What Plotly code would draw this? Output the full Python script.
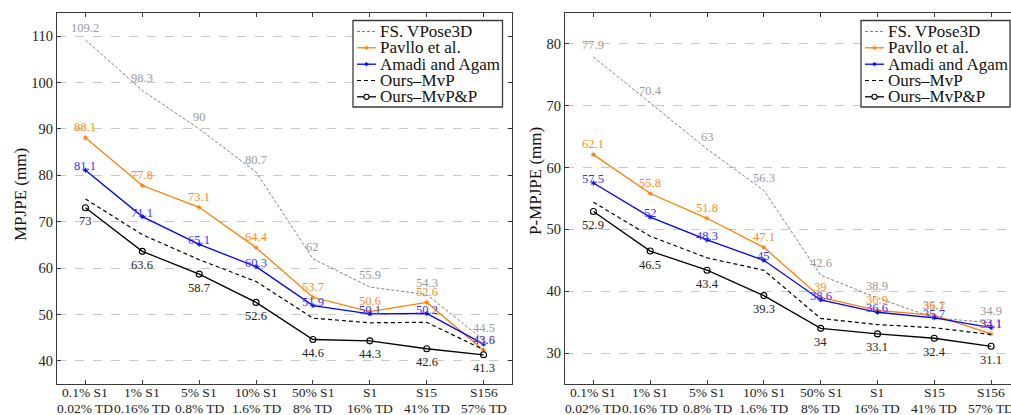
import plotly.graph_objects as go

# ---- data ----
cat_top = ["0.1% S1", "1% S1", "5% S1", "10% S1", "50% S1", "S1", "S15", "S156"]
cat_bottom = ["0.02% TD", "0.16% TD", "0.8% TD", "1.6% TD", "8% TD", "16% TD", "41% TD", "57% TD"]

mpjpe_vpose = [109.2, 98.3, 90, 80.7, 62, 55.9, 54.3, 44.5]
mpjpe_pavllo = [88.1, 77.8, 73.1, 64.4, 53.7, 50.6, 52.6, 42.3]
mpjpe_amadi = [81.1, 71.1, 65.1, 60.3, 51.9, 50.1, 50.2, 43.6]
mpjpe_mvp = [74.9, 67.2, 61.8, 57.1, 49.2, 48.2, 48.3, 42.4]
mpjpe_mvpp = [73, 63.6, 58.7, 52.6, 44.6, 44.3, 42.6, 41.3]

pmpjpe_vpose = [77.9, 70.4, 63, 56.3, 42.6, 38.9, 35.7, 34.9]
pmpjpe_pavllo = [62.1, 55.8, 51.8, 47.1, 39, 36.9, 36.1, 33.1]
pmpjpe_amadi = [57.5, 52, 48.3, 45, 38.6, 36.6, 35.7, 34.1]
pmpjpe_mvp = [54.4, 48.9, 45.4, 43.4, 35.6, 34.6, 34.1, 33.0]
pmpjpe_mvpp = [52.9, 46.5, 43.4, 39.3, 34, 33.1, 32.4, 31.1]

mpjpe_ticks = [40, 50, 60, 70, 80, 90, 100, 110]
pmpjpe_ticks = [30, 40, 50, 60, 70, 80]

series_names = ["FS. VPose3D", "Pavllo et al.", "Amadi and Agam", "Ours\u2013MvP", "Ours\u2013MvP&P"]

# ---- styles ----
W, H = 1011, 415
FONT = "Liberation Serif, Times New Roman, serif"
GRAY, ORANGE, BLUE, BLACK = "#808080", "#ff8000", "#0000ff", "#000000"
FRAME = "#3a3a3a"

styles = [
    dict(color=GRAY, width=1.0, dash="3px,2px", marker=None, lab_shift=12, lab_color="#9a9a9a"),
    dict(color=ORANGE, width=1.3, dash="solid", marker="asterisk-open", lab_shift=10.5, lab_color="#ff8c1a"),
    dict(color=BLUE, width=1.3, dash="solid", marker="asterisk-open", lab_shift=4, lab_color="#3333ff"),
    dict(color=BLACK, width=1.2, dash="4px,3px", marker=None, lab_shift=0, lab_color=None),
    dict(color=BLACK, width=1.3, dash="solid", marker="circle-open", lab_shift=-13.5, lab_color="#222222"),
]


def px(x):
    return x / W


def py(y):
    return 1 - y / H


fig = go.Figure()

panels = [
    dict(xa="x", ya="y", data=[mpjpe_vpose, mpjpe_pavllo, mpjpe_amadi, mpjpe_mvp, mpjpe_mvpp]),
    dict(xa="x2", ya="y2", data=[pmpjpe_vpose, pmpjpe_pavllo, pmpjpe_amadi, pmpjpe_mvp, pmpjpe_mvpp]),
]

xs = list(range(len(cat_top)))
annotations = []
for p in panels:
    for name, vals, st in zip(series_names, p["data"], styles):
        mk = dict(size=1, opacity=0)
        mode = "lines"
        if st["marker"] == "asterisk-open":
            mode = "lines+markers"
            mk = dict(symbol="asterisk-open", size=4, line=dict(color=st["color"], width=1))
        elif st["marker"] == "circle-open":
            mode = "lines+markers"
            mk = dict(symbol="circle-open", size=6, line=dict(color=st["color"], width=1.1))
        fig.add_trace(go.Scatter(
            x=xs, y=vals, mode=mode, name=name, showlegend=False,
            line=dict(color=st["color"], width=st["width"], dash=st["dash"]),
            marker=mk, xaxis=p["xa"], yaxis=p["ya"], cliponaxis=False,
        ))
        if st["lab_color"]:
            for i, v in zip(xs, vals):
                annotations.append(dict(
                    x=i, y=v, xref=p["xa"], yref=p["ya"], text=f"{v:g}",
                    showarrow=False, yshift=st["lab_shift"], xanchor="center", yanchor="middle",
                    font=dict(family=FONT, size=12.5, color=st["lab_color"]),
                ))
    # two-line category labels under each tick
    for i, (t1, t2) in enumerate(zip(cat_top, cat_bottom)):
        for txt, yy in ((t1, 392.5), (t2, 408)):
            annotations.append(dict(x=i, y=py(yy), xref=p["xa"], yref="paper", text=txt,
                                    showarrow=False, xanchor="center", yanchor="middle",
                                    font=dict(family=FONT, size=13.5, color="#222")))

# axis titles
annotations.append(dict(x=px(20), y=py(195), xref="paper", yref="paper", text="MPJPE (mm)",
                        textangle=-90, showarrow=False, xanchor="center", yanchor="middle",
                        font=dict(family=FONT, size=17, color="#111")))
annotations.append(dict(x=px(535), y=py(181), xref="paper", yref="paper", text="P-MPJPE (mm)",
                        textangle=-90, showarrow=False, xanchor="center", yanchor="middle",
                        font=dict(family=FONT, size=17, color="#111")))

# ---- legends (drawn as boxes with sample lines) ----
shapes = []
legend_boxes = [(353, 20.5, 502.5, 107), (861, 20.5, 1010, 107)]
row_y = [31.5, 47.8, 64.2, 80.5, 96.8]
for (x0, y0, x1, y1) in legend_boxes:
    shapes.append(dict(type="rect", xref="paper", yref="paper", x0=px(x0), y0=py(y0), x1=px(x1), y1=py(y1),
                       line=dict(color=FRAME, width=1.3), fillcolor="white", layer="above"))
    lx0, lx1 = x0 + 4, x0 + 23
    for name, st, ry in zip(series_names, styles, row_y):
        shapes.append(dict(type="line", xref="paper", yref="paper", x0=px(lx0), x1=px(lx1), y0=py(ry), y1=py(ry),
                           line=dict(color=st["color"], width=st["width"], dash=st["dash"]),
                           layer="above"))
        cx = (lx0 + lx1) / 2
        if st["marker"] == "circle-open":
            r = 2.6
            shapes.append(dict(type="circle", xref="paper", yref="paper", x0=px(cx - r), x1=px(cx + r),
                               y0=py(ry + r), y1=py(ry - r), line=dict(color=st["color"], width=1.1),
                               fillcolor="white", layer="above"))
        elif st["marker"] == "asterisk-open":
            r = 2.0
            for dx, dy in [(0, r), (r * 0.87, r * 0.5), (r * 0.87, -r * 0.5)]:
                shapes.append(dict(type="line", xref="paper", yref="paper", x0=px(cx - dx), x1=px(cx + dx),
                                   y0=py(ry - dy), y1=py(ry + dy), line=dict(color=st["color"], width=1),
                                   layer="above"))
        annotations.append(dict(x=px(lx1 + 1.5), y=py(ry), xref="paper", yref="paper", text=name,
                                showarrow=False, xanchor="left", yanchor="middle",
                                font=dict(family=FONT, size=17, color="#111")))

axis_common = dict(
    showline=True, linecolor=FRAME, linewidth=1.3, ticks="inside", ticklen=4, tickcolor=FRAME,
    zeroline=False, automargin=False,
)
y_tickfont = dict(family=FONT, size=14.5, color="#222")

y_dom = [py(384), py(13)]
fig.update_layout(
    width=W, height=H, margin=dict(l=0, r=0, t=0, b=0, autoexpand=False),
    plot_bgcolor="white", paper_bgcolor="white",
    xaxis=dict(domain=[px(57), px(512)], range=[-0.5, 7.5], tickvals=xs, showticklabels=False,
               mirror="ticks", showgrid=False, anchor="y", **axis_common),
    yaxis=dict(domain=y_dom, range=[35, 115], tickvals=mpjpe_ticks, mirror="ticks", tickfont=y_tickfont,
               showgrid=True, gridcolor="#c8c8c8", griddash="dash", gridwidth=1, anchor="x", **axis_common),
    xaxis2=dict(domain=[px(565), 1.0], range=[-0.5, 7.35], tickvals=xs, showticklabels=False,
                mirror="ticks", showgrid=False, anchor="y2", **axis_common),
    yaxis2=dict(domain=y_dom, range=[25, 85], tickvals=pmpjpe_ticks, mirror=False, tickfont=y_tickfont,
                showgrid=True, gridcolor="#c8c8c8", griddash="dash", gridwidth=1, anchor="x2", **axis_common),
    annotations=annotations, shapes=shapes, showlegend=False,
)

fig.write_html("out.html")
